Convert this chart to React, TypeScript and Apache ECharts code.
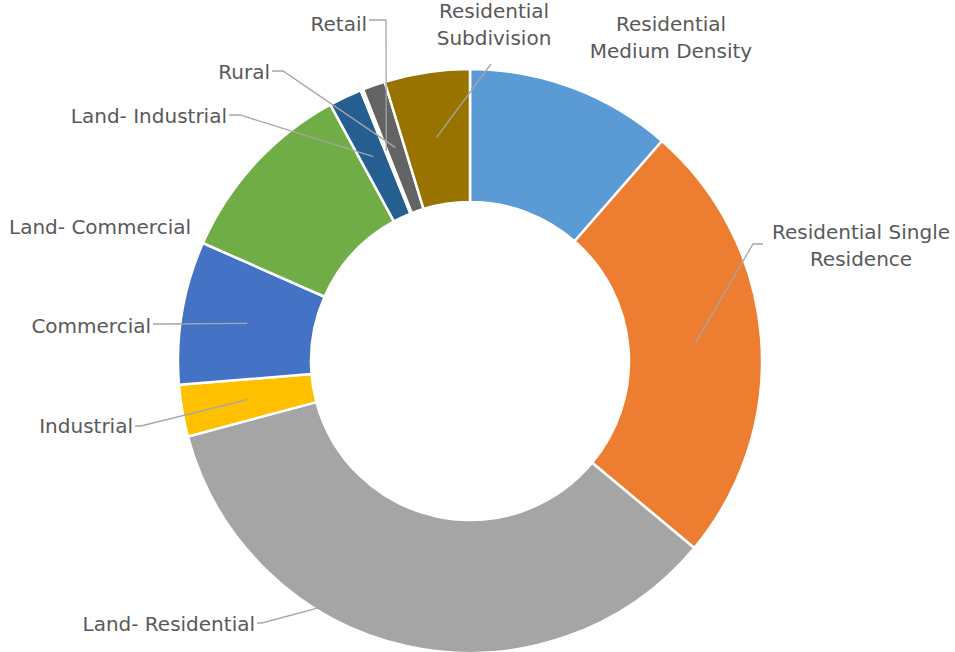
import React, { useEffect, useRef } from "react";
import * as echarts from "echarts";

// ---- data ----
const categories = [
  "Residential Medium Density",
  "Residential Single Residence",
  "Land- Residential",
  "Industrial",
  "Commercial",
  "Land- Commercial",
  "Land- Industrial",
  "Retail",
  "Rural",
  "Residential Subdivision",
];
const labelTexts = [
  "Residential\nMedium Density",
  "Residential Single\nResidence",
  "Land- Residential",
  "Industrial",
  "Commercial",
  "Land- Commercial",
  "Land- Industrial",
  "Retail",
  "Rural",
  "Residential\nSubdivision",
];
const shares = [11.42, 24.64, 34.78, 2.86, 7.92, 10.44, 1.83, 0.14, 1.25, 4.72];
const colors = [
  "#5B9BD5",
  "#ED7D31",
  "#A5A5A5",
  "#FFC000",
  "#4472C4",
  "#70AD47",
  "#255E91",
  "#9E480E",
  "#636363",
  "#997300",
];

// ---- layout ----
const CX = 470;
const CY = 361;
const R_IN = 159;
const R_OUT = 292;
const R_MID = 226;

type Pos = { x: number; y: number; align: "left" | "center" | "right" };
const labelPos: Pos[] = [
  { x: 671, y: 37, align: "center" },
  { x: 861, y: 245, align: "center" },
  { x: 255, y: 624, align: "right" },
  { x: 133, y: 426, align: "right" },
  { x: 151, y: 326, align: "right" },
  { x: 191, y: 227, align: "right" },
  { x: 227, y: 116, align: "right" },
  { x: 367, y: 24, align: "right" },
  { x: 270, y: 72, align: "right" },
  { x: 494, y: 24, align: "center" },
];
type Leader = { start: number[]; elbow: number[]; frac: number; r: number } | null;
const leaders: Leader[] = [
  null,
  { start: [763, 244], elbow: [753, 244], frac: 0.5, r: R_MID },
  { start: [257, 623], elbow: [262, 623], frac: 0.652, r: 289 },
  { start: [135, 426], elbow: [141, 426], frac: 0.5, r: R_MID },
  { start: [153, 324], elbow: [160, 324], frac: 0.5, r: R_MID },
  null,
  { start: [229, 115], elbow: [240, 115], frac: 0.5, r: R_MID },
  { start: [369, 20], elbow: [386, 20], frac: 0.5, r: R_MID },
  { start: [272, 71], elbow: [283, 71], frac: 0.5, r: R_MID },
  { start: [491, 64], elbow: [491, 64], frac: 0.5, r: R_MID },
];

function anchorPoint(i: number, frac: number, r: number): number[] {
  const total = shares.reduce((a, b) => a + b, 0);
  let cum = 0;
  for (let k = 0; k < i; k++) cum += shares[k];
  const theta = (((cum + frac * shares[i]) / total) * 360 * Math.PI) / 180;
  return [CX + r * Math.sin(theta), CY - r * Math.cos(theta)];
}

export default function App() {
  const ref = useRef<HTMLDivElement>(null);
  useEffect(() => {
    if (!ref.current) return;
    const chart = echarts.init(ref.current, null, { renderer: "svg" });
    const leaderGraphics = leaders
      .map((ld, i) =>
        ld
          ? {
              type: "polyline",
              z: 100,
              silent: true,
              shape: { points: [ld.start, ld.elbow, anchorPoint(i, ld.frac, ld.r)] },
              style: { stroke: "#A6A6A6", lineWidth: 1.3, fill: null },
            }
          : null
      )
      .filter((g) => g !== null);
    chart.setOption({
      animation: false,
      backgroundColor: "#ffffff",
      graphic: { elements: leaderGraphics },
      series: [
        {
          type: "pie",
          center: [CX, CY],
          radius: [R_IN, R_OUT],
          startAngle: 90,
          clockwise: true,
          avoidLabelOverlap: false,
          silent: true,
          itemStyle: { borderColor: "#ffffff", borderWidth: 2.5 },
          label: {
            show: true,
            position: "outside",
            color: "#595959",
            fontFamily: "DejaVu Sans",
            fontSize: 20,
            lineHeight: 27,
            formatter: (p: any) => labelTexts[p.dataIndex],
          },
          labelLine: { show: false },
          labelLayout: (params: any) => {
            const pos = labelPos[params.dataIndex];
            return {
              x: pos.x,
              y: pos.y,
              align: pos.align,
              verticalAlign: "middle",
            };
          },
          data: categories.map((name, i) => ({
            name,
            value: shares[i],
            itemStyle: { color: colors[i] },
          })),
        },
      ],
    });
    return () => chart.dispose();
  }, []);
  return (
    <div
      ref={ref}
      style={{ position: "fixed", left: 0, top: 0, width: 955, height: 652 }}
    />
  );
}
